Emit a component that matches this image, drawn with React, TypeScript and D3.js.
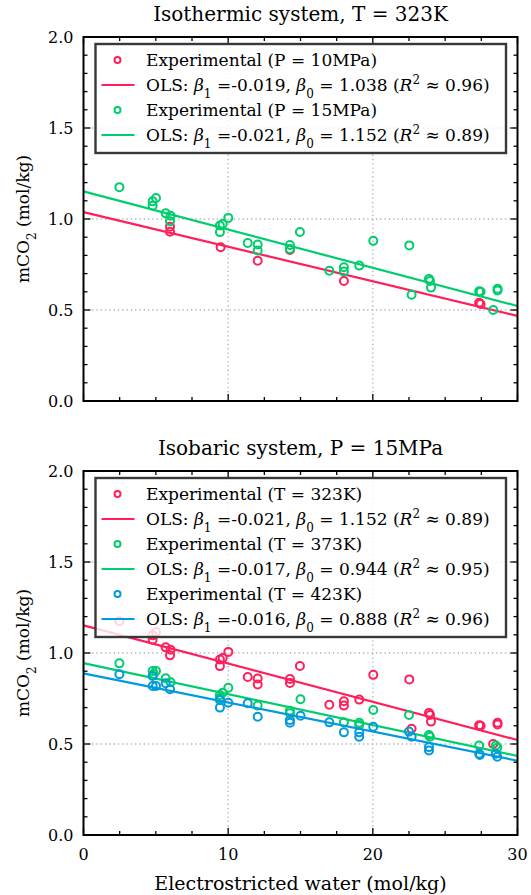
import React from "react";
import * as d3 from "d3";

// water (mol/kg) and mCO2 (mol/kg)
const waterP10 = [5.98, 5.98, 9.48, 12.04, 14.27, 18.0, 27.35, 27.45];
const co2P10 = [0.958, 0.93, 0.845, 0.771, 0.83, 0.659, 0.54, 0.533];

// P = 15MPa, T = 323K (shown in both panels)
const waterT323 = [2.48, 4.78, 5.01, 4.78, 5.68, 6.02, 5.98, 9.43, 9.43, 9.62, 10.01, 11.35, 12.04, 12.04, 14.27, 14.27, 14.96, 16.99, 18.0, 18.0, 19.06, 20.03, 22.52, 22.68, 23.88, 23.95, 24.02, 27.35, 27.45, 28.32, 28.62, 28.62];
const co2T323 = [1.175, 1.097, 1.115, 1.073, 1.031, 1.018, 0.987, 0.964, 0.928, 0.972, 1.006, 0.868, 0.86, 0.827, 0.857, 0.835, 0.929, 0.716, 0.735, 0.711, 0.744, 0.88, 0.855, 0.584, 0.671, 0.66, 0.623, 0.603, 0.6, 0.5, 0.617, 0.607];

const waterT373 = [2.48, 4.78, 5.01, 4.85, 5.68, 6.02, 9.43, 9.43, 9.62, 10.01, 12.04, 14.27, 14.27, 15.0, 18.0, 19.06, 19.06, 20.03, 22.5, 23.88, 23.95, 27.35, 28.5, 28.6];
const co2T373 = [0.943, 0.901, 0.901, 0.885, 0.861, 0.839, 0.769, 0.752, 0.782, 0.809, 0.711, 0.683, 0.669, 0.746, 0.619, 0.617, 0.604, 0.687, 0.659, 0.549, 0.54, 0.492, 0.492, 0.48];

const waterT423 = [2.48, 4.78, 4.78, 5.01, 5.68, 5.98, 9.43, 9.43, 10.01, 11.35, 12.04, 14.27, 14.27, 15.0, 16.99, 18.0, 19.06, 19.06, 20.03, 22.5, 22.68, 23.88, 23.88, 27.35, 27.4, 28.5, 28.6];
const co2T423 = [0.883, 0.874, 0.819, 0.819, 0.834, 0.801, 0.742, 0.7, 0.727, 0.724, 0.65, 0.632, 0.617, 0.655, 0.619, 0.564, 0.564, 0.54, 0.595, 0.568, 0.54, 0.483, 0.464, 0.446, 0.44, 0.446, 0.43];

// OLS fits [slope, intercept, r2]
const fitP10 = [-0.019, 1.038, 0.96];
const fitT323 = [-0.021, 1.152, 0.89];
const fitT373 = [-0.017, 0.944, 0.95];
const fitT423 = [-0.016, 0.888, 0.96];

const xTicks = [0, 10, 20, 30];
const yTicks = [0.0, 0.5, 1.0, 1.5, 2.0];

const RED = "#ff1f5b";
const GREEN = "#00cd6c";
const BLUE = "#009ade";
const FONT = "DejaVu Serif";

type Series = { xs: number[]; ys: number[]; fit: number[]; color: string; label: string };

const x = d3.scaleLinear().domain([0, 30]).range([83.5, 517.5]);

function OlsLabel({ fit }: { fit: number[] }) {
  const sub = { baselineShift: "sub", fontSize: 12 } as any;
  return (
    <>
      {"OLS: "}
      <tspan fontStyle="italic">β</tspan>
      <tspan style={sub}>1</tspan>
      <tspan>{" =" + fit[0].toFixed(3) + ", "}</tspan>
      <tspan fontStyle="italic">β</tspan>
      <tspan style={sub}>0</tspan>
      <tspan>{" = " + fit[1].toFixed(3) + " ("}</tspan>
      <tspan fontStyle="italic">R</tspan>
      <tspan style={{ baselineShift: "super", fontSize: 12 } as any}>2</tspan>
      <tspan>{" ≈ " + fit[2].toFixed(2) + ")"}</tspan>
    </>
  );
}

function Panel({ title, top, series }: { title: string; top: number; series: Series[] }) {
  const y = d3.scaleLinear().domain([0, 2]).range([top + 364, top]);
  const [x0, x1] = x.range();
  const [y0, y1] = y.range();
  const minorX = d3.range(0, 30.01, 2.5);
  const minorY = d3.range(0, 2.001, 0.1);
  const line = d3.line<number[]>().x((d) => x(d[0])).y((d) => y(d[1]));
  const legTop = top + 7;
  const rowH = 25;
  const legH = series.length * 2 * rowH + 9;

  return (
    <g>
      <text x={(x0 + x1) / 2} y={top - 16} textAnchor="middle" fontSize={20} fontFamily={FONT}>
        {title}
      </text>
      <defs>
        <clipPath id={"clip" + top}>
          <rect x={x0} y={y1} width={x1 - x0} height={y0 - y1} />
        </clipPath>
      </defs>
      {/* grid */}
      {[10, 20].map((t) => (
        <line key={"gx" + t} x1={x(t)} x2={x(t)} y1={y0} y2={y1} stroke="#b0b0b0" strokeWidth={1.3} strokeDasharray="1.3,3" />
      ))}
      {[0.5, 1.0, 1.5].map((t) => (
        <line key={"gy" + t} x1={x0} x2={x1} y1={y(t)} y2={y(t)} stroke="#b0b0b0" strokeWidth={1.3} strokeDasharray="1.3,3" />
      ))}
      <g clipPath={`url(#clip${top})`}>
        {series.map((s, i) => (
          <g key={i}>
            {s.xs.map((v, j) => (
              <circle key={j} cx={x(v)} cy={y(s.ys[j])} r={4} fill="none" stroke={s.color} strokeWidth={2} />
            ))}
            <path
              d={line([0, 30].map((v) => [v, s.fit[1] + s.fit[0] * v])) || ""}
              fill="none"
              stroke={s.color}
              strokeWidth={2.2}
            />
          </g>
        ))}
      </g>
      {/* ticks */}
      {minorX.map((t) => {
        const major = t % 10 === 0;
        const l = major ? 7 : 4;
        return (
          <g key={"tx" + t} stroke="#000" strokeWidth={1.3}>
            <line x1={x(t)} x2={x(t)} y1={y0} y2={y0 - l} />
            <line x1={x(t)} x2={x(t)} y1={y1} y2={y1 + l} />
          </g>
        );
      })}
      {minorY.map((t, i) => {
        const major = i % 5 === 0;
        const l = major ? 7 : 4;
        return (
          <g key={"ty" + i} stroke="#000" strokeWidth={1.3}>
            <line x1={x0} x2={x0 + l} y1={y(t)} y2={y(t)} />
            <line x1={x1} x2={x1 - l} y1={y(t)} y2={y(t)} />
          </g>
        );
      })}
      <rect x={x0} y={y1} width={x1 - x0} height={y0 - y1} fill="none" stroke="#000" strokeWidth={2} />
      {yTicks.map((t) => (
        <text key={"ly" + t} x={x0 - 10} y={y(t) + 6} textAnchor="end" fontSize={16} fontFamily={FONT}>
          {t.toFixed(1)}
        </text>
      ))}
      <text transform={`translate(29,${(y0 + y1) / 2}) rotate(-90)`} textAnchor="middle" fontSize={17} fontFamily={FONT}>
        mCO<tspan style={{ baselineShift: "sub", fontSize: 12 } as any}>2</tspan> (mol/kg)
      </text>
      {/* legend */}
      <rect x={95.5} y={legTop} width={410.5} height={legH} fill="#fff" fillOpacity={0.8} stroke="#383838" strokeWidth={2.4} />
      {series.map((s, i) => {
        const r1 = legTop + 16 + i * 2 * rowH;
        const r2 = r1 + rowH;
        return (
          <g key={"lg" + i} fontSize={17} fontFamily={FONT}>
            <circle cx={117.5} cy={r1} r={3} fill="none" stroke={s.color} strokeWidth={2} />
            <text x={146} y={r1 + 5.5}>{s.label}</text>
            <line x1={101.5} x2={134.5} y1={r2} y2={r2} stroke={s.color} strokeWidth={2.2} />
            <text x={146} y={r2 + 5.5}>
              <OlsLabel fit={s.fit} />
            </text>
          </g>
        );
      })}
    </g>
  );
}

export default function App() {
  const topSeries: Series[] = [
    { xs: waterP10, ys: co2P10, fit: fitP10, color: RED, label: "Experimental (P = 10MPa)" },
    { xs: waterT323, ys: co2T323, fit: fitT323, color: GREEN, label: "Experimental (P = 15MPa)" },
  ];
  const bottomSeries: Series[] = [
    { xs: waterT323, ys: co2T323, fit: fitT323, color: RED, label: "Experimental (T = 323K)" },
    { xs: waterT373, ys: co2T373, fit: fitT373, color: GREEN, label: "Experimental (T = 373K)" },
    { xs: waterT423, ys: co2T423, fit: fitT423, color: BLUE, label: "Experimental (T = 423K)" },
  ];
  return (
    <svg width={531} height={895} style={{ position: "absolute", left: 0, top: 0 }}>
      <rect width={531} height={895} fill="#fff" />
      <Panel title="Isothermic system, T = 323K" top={37} series={topSeries} />
      <Panel title="Isobaric system, P = 15MPa" top={471} series={bottomSeries} />
      {xTicks.map((t) => (
        <text key={t} x={x(t)} y={860} textAnchor="middle" fontSize={16} fontFamily={FONT}>
          {t}
        </text>
      ))}
      <text x={300.5} y={890} textAnchor="middle" fontSize={19} fontFamily={FONT}>
        Electrostricted water (mol/kg)
      </text>
    </svg>
  );
}
